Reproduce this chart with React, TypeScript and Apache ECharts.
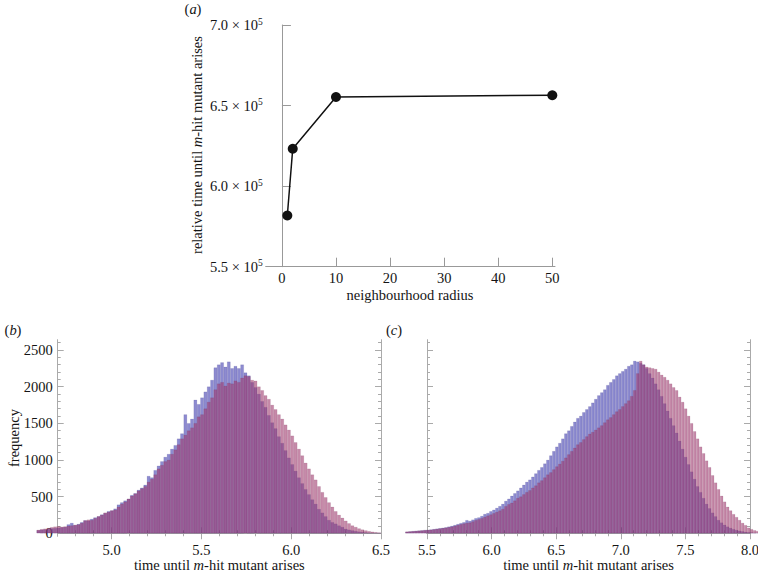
import React, { useEffect, useRef } from "react";
import * as echarts from "echarts";

const FONT = "Liberation Serif, Times New Roman, serif";

// ---------- panel (a) ----------
const radius = [1, 2, 10, 50];
const relTime = [581800, 623200, 655300, 656400];
const aXTicks = [0, 10, 20, 30, 40, 50];

// ---------- panel (b) ----------
const bBinStart = 4.583;
const bBinWidth = 0.0186;
const bBlue = [
  40, 48, 52, 58, 65, 70, 74, 80, 86, 120,
  140, 110, 125, 150, 175, 170, 195, 215, 230, 255,
  275, 300, 310, 335, 390, 420, 445, 470, 520, 545,
  590, 620, 660, 780, 760, 860, 920, 980, 1040, 1080,
  1150, 1200, 1290, 1360, 1620, 1500, 1560, 1820, 1760, 1850,
  1930, 2000, 2090, 2260, 2300, 2330, 2270, 2340, 2250, 2280,
  2250, 2300, 2190, 2150, 2060, 1990, 1900, 1800, 1720, 1610,
  1510, 1430, 1320, 1230, 1130, 1030, 940, 850, 760, 680,
  600, 530, 460, 400, 330, 280, 230, 180, 150, 130,
  105, 85, 60, 48, 38, 30, 22, 16, 11, 7,
  4, 2, 1,
];
const bPink = [
  45, 55, 62, 70, 82, 90, 95, 88, 92, 100,
  105, 115, 120, 140, 175, 185, 180, 205, 230, 250,
  280, 290, 310, 320, 360, 400, 430, 470, 510, 540,
  580, 610, 640, 700, 740, 800, 880, 930, 980, 1000,
  1080, 1140, 1210, 1290, 1340, 1400, 1440, 1500, 1590, 1620,
  1700, 1790, 1850, 1960, 2040, 2060, 2010, 2050, 2040, 2080,
  2060, 2120, 2150, 2140, 2090, 2080, 2000, 1950, 1880, 1830,
  1750, 1690, 1620, 1560, 1480, 1410, 1330, 1240, 1150, 1060,
  960, 880, 800, 730, 640, 560, 490, 420, 360, 300,
  250, 210, 170, 135, 105, 85, 65, 50, 38, 28,
  20, 14, 9,
];
const bXTicks = [5.0, 5.5, 6.0, 6.5];

// ---------- panel (c) ----------
const cBinStart = 5.333;
const cBinWidth = 0.0232;
const cBlue = [
  20, 24, 28, 32, 35, 38, 42, 45, 50, 56,
  62, 68, 74, 80, 90, 100, 112, 125, 138, 150,
  178, 168, 185, 205, 215, 235, 262, 275, 300, 320,
  345, 370, 400, 440, 470, 510, 545, 580, 620, 660,
  700, 730, 770, 815, 860, 900, 950, 1000, 1060, 1120,
  1180, 1230, 1290, 1360, 1400, 1460, 1520, 1570, 1600, 1650,
  1690, 1730, 1780, 1830, 1880, 1920, 1960, 2020, 2060, 2100,
  2150, 2180, 2210, 2240, 2280, 2300, 2350, 2340, 2320, 2300,
  2250, 2180, 2120, 2040, 1960, 1870, 1770, 1670, 1570, 1470,
  1370, 1260, 1150, 1040, 940, 840, 740, 640, 560, 480,
  400, 340, 280, 230, 180, 145, 115, 90, 72, 56,
  44, 34, 26, 19, 14, 10, 6, 3,
];
const cPink = [
  22, 25, 28, 31, 35, 38, 42, 45, 48, 53,
  58, 64, 70, 76, 83, 90, 100, 112, 122, 132,
  140, 145, 160, 178, 190, 205, 222, 240, 255, 272,
  290, 309, 330, 368, 395, 415, 445, 480, 500, 530,
  560, 585, 620, 650, 690, 720, 760, 800, 830, 870,
  910, 945, 985, 1030, 1075, 1120, 1165, 1210, 1240, 1280,
  1320, 1355, 1380, 1410, 1440, 1470, 1510, 1550, 1580, 1620,
  1660, 1690, 1730, 1770, 1810, 1870, 1950, 2180, 2350, 2300,
  2270, 2260, 2250, 2240, 2200, 2160, 2130, 2090, 2040, 1990,
  1950, 1860, 1790, 1700, 1600, 1500, 1390, 1290, 1180, 1090,
  990, 900, 790, 690, 600, 510, 430, 360, 310, 260,
  220, 180, 140, 110, 75, 55, 40, 30,
];
const cXTicks = [5.5, 6.0, 6.5, 7.0, 7.5, 8.0];
const freqTicks = [0, 500, 1000, 1500, 2000, 2500];

// ---------- layout ----------
const PA = { left: 265.7, top: 25, width: 289.3, height: 241.7 };
const PB = { left: 57.7, top: 339.7, width: 323.3, height: 196.5, xMin: 4.7, xMax: 6.5 };
const PC = { left: 427, top: 339.7, width: 323, height: 196.5, xMin: 5.5, xMax: 8.0 };
const F_MIN = -40;
const F_MAX = 2640;
const FRAME = "#aaaaaa";
const INK = "#141414";
const FS = 14.5;

function minorTicks(min: number, max: number, step: number, majors: number[]) {
  const out: number[] = [];
  const start = Math.ceil(min / step - 1e-9);
  const end = Math.floor(max / step + 1e-9);
  for (let k = start; k <= end; k++) {
    const v = Math.round(k * step * 1000) / 1000;
    if (!majors.some((m) => Math.abs(m - v) < 1e-6)) out.push(v);
  }
  return out;
}

function buildOption() {
  const grids: any[] = [];
  const xAxes: any[] = [];
  const yAxes: any[] = [];
  const series: any[] = [];
  const addX = (o: any) => (xAxes.push(o), xAxes.length - 1);
  const addY = (o: any) => (yAxes.push(o), yAxes.length - 1);
  const addGrid = (o: any) => (grids.push({ ...o, containLabel: false, outerBoundsMode: "none" }), grids.length - 1);
  const labelStyle = { fontFamily: FONT, fontSize: FS, color: INK };

  // panel (a)
  const gA = addGrid(PA);
  const xa = addX({
    type: "value", gridIndex: gA, min: -3, max: 50.5, position: "bottom",
    axisLine: { show: true, lineStyle: { color: "#999", width: 1 } },
    axisTick: { show: true, inside: true, length: 9, customValues: aXTicks, lineStyle: { color: "#999" } },
    axisLabel: { show: true, customValues: aXTicks, margin: 4, formatter: (v: number) => String(v), ...labelStyle },
    splitLine: { show: false },
  });
  const ya = addY({
    type: "value", gridIndex: gA, min: 550000, max: 700000, interval: 50000, position: "left",
    axisLine: { show: true, lineStyle: { color: "#999", width: 1 } },
    axisTick: { show: true, inside: true, length: 9, lineStyle: { color: "#999" } },
    axisLabel: {
      show: true, margin: 3,
      formatter: (v: number) => `{n|${(v / 1e5).toFixed(1)} \u00d7 10}{s|5}`,
      rich: {
        n: { fontFamily: FONT, fontSize: FS, color: INK },
        s: { fontFamily: FONT, fontSize: 9.5, color: INK, padding: [0, 0, 7, 0] },
      },
    },
    splitLine: { show: false },
  });
  series.push({
    type: "line", xAxisIndex: xa, yAxisIndex: ya,
    data: radius.map((r, i) => [r, relTime[i]]),
    symbol: "circle", symbolSize: 10, showSymbol: true,
    lineStyle: { color: "#111", width: 1.5 },
    itemStyle: { color: "#111" },
  });

  // frame builder for panels (b), (c)
  const frame = (P: any, xMajors: number[], showY: boolean) => {
    const g = addGrid({ left: P.left, top: P.top, width: P.width, height: P.height });
    const xMin = minorTicks(P.xMin, P.xMax, 0.1, xMajors);
    const yMin = minorTicks(F_MIN, F_MAX, 100, freqTicks);
    const line = { show: true, lineStyle: { color: FRAME, width: 1 } };
    const tick = (vals: number[], len: number) => ({ show: true, inside: true, length: len, customValues: vals, lineStyle: { color: FRAME } });
    const common = { gridIndex: g, splitLine: { show: false } };
    for (const pos of ["bottom", "top"]) {
      addX({
        ...common, type: "value", position: pos, min: P.xMin, max: P.xMax,
        axisLine: line, axisTick: tick(xMajors, 6),
        axisLabel: pos === "bottom"
          ? { show: true, customValues: xMajors, margin: 6, formatter: (v: number) => v.toFixed(1), ...labelStyle }
          : { show: false },
      });
      addX({
        ...common, type: "value", position: pos, min: P.xMin, max: P.xMax,
        axisLine: { show: false }, axisTick: tick(xMin, 3), axisLabel: { show: false },
      });
    }
    for (const pos of ["left", "right"]) {
      addY({
        ...common, type: "value", position: pos, min: F_MIN, max: F_MAX,
        axisLine: line, axisTick: tick(freqTicks, 6),
        axisLabel: pos === "left" && showY
          ? { show: true, customValues: freqTicks, margin: 5, formatter: (v: number) => String(v), ...labelStyle }
          : { show: false },
      });
      addY({
        ...common, type: "value", position: pos, min: F_MIN, max: F_MAX,
        axisLine: { show: false }, axisTick: tick(yMin, 3), axisLabel: { show: false },
      });
    }
  };

  const hist = (P: any, start: number, width: number, blue: number[], pink: number[]) => {
    const ppu = P.width / (P.xMax - P.xMin);
    const g = addGrid({
      left: P.left + (start - P.xMin) * ppu,
      top: P.top,
      width: blue.length * width * ppu,
      height: P.height,
    });
    const cats = blue.map((_, i) => (start + (i + 0.5) * width).toFixed(4));
    const xi = addX({ type: "category", gridIndex: g, data: cats, show: false, boundaryGap: true });
    const yi = addY({ type: "value", gridIndex: g, min: F_MIN, max: F_MAX, show: false, splitLine: { show: false } });
    const common = { type: "bar", xAxisIndex: xi, yAxisIndex: yi, barGap: "-100%", barCategoryGap: "0%", silent: true };
    series.push({
      ...common, name: "blue", data: blue,
      itemStyle: { color: "rgba(48,44,170,0.55)", borderColor: "rgba(40,30,110,0.35)", borderWidth: 0.3 },
    });
    series.push({
      ...common, name: "pink", data: pink,
      itemStyle: { color: "rgba(160,60,112,0.6)", borderColor: "rgba(100,30,70,0.35)", borderWidth: 0.3 },
    });
  };

  hist(PB, bBinStart, bBinWidth, bBlue, bPink);
  frame(PB, bXTicks, true);
  hist(PC, cBinStart, cBinWidth, cBlue, cPink);
  frame(PC, cXTicks, false);

  const rich = {
    r: { fontFamily: FONT, fontSize: FS, fill: INK, color: INK },
    i: { fontFamily: FONT, fontSize: FS, fontStyle: "italic", fill: INK, color: INK },
  };
  const txt = (x: number, y: number, text: string, rot = 0) => ({
    type: "text", x, y, rotation: rot, silent: true,
    style: { text, rich, align: "center", verticalAlign: "middle", fill: INK, fontFamily: FONT, fontSize: FS },
  });
  const mTitle = "{r|time until }{i|m}{r|-hit mutant arises}";

  return {
    animation: false,
    backgroundColor: "#ffffff",
    textStyle: { fontFamily: FONT },
    grid: grids,
    xAxis: xAxes,
    yAxis: yAxes,
    series,
    graphic: [
      txt(193, 9, "{r|(}{i|a}{r|)}"),
      txt(197, 145, "{r|relative time until }{i|m}{r|-hit mutant arises}", Math.PI / 2),
      txt(410, 295, "{r|neighbourhood radius}"),
      txt(13, 330, "{r|(}{i|b}{r|)}"),
      txt(14, 438, "{r|frequency}", Math.PI / 2),
      txt(PB.left + PB.width / 2, 565, mTitle),
      txt(394, 330, "{r|(}{i|c}{r|)}"),
      txt(PC.left + PC.width / 2, 565, mTitle),
    ],
  };
}

export default function App() {
  const ref = useRef<HTMLDivElement>(null);
  useEffect(() => {
    if (!ref.current) return;
    const chart = echarts.init(ref.current, undefined, { renderer: "svg" });
    chart.setOption(buildOption() as any);
    return () => chart.dispose();
  }, []);
  return (
    <div
      ref={ref}
      style={{ position: "absolute", left: 0, top: 0, width: 758, height: 574, background: "#fff" }}
    />
  );
}
